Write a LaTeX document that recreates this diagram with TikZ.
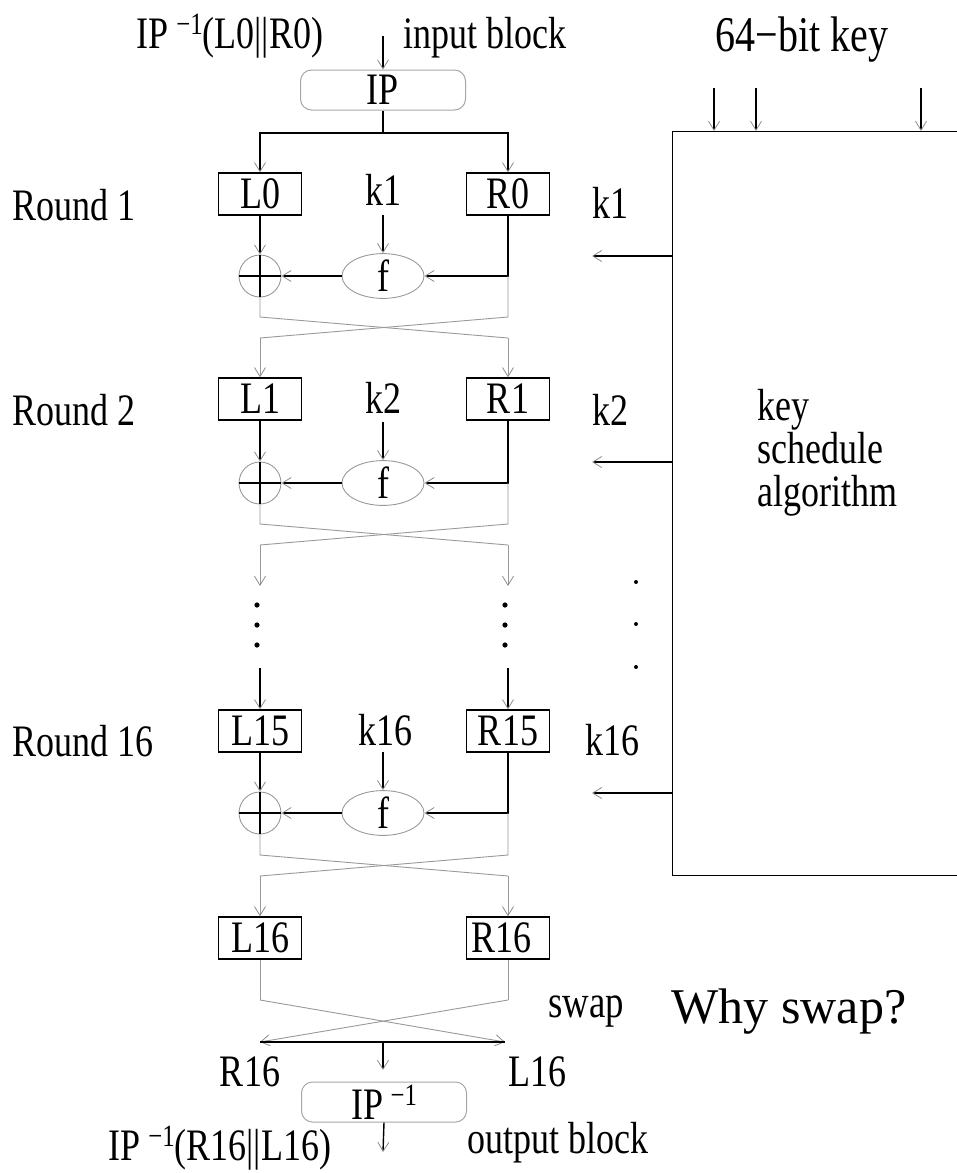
\documentclass[tikz,border=0pt]{standalone}
\usepackage{fontspec}
\setmainfont{Liberation Serif}[FakeStretch=0.8]
\newfontfamily\whyfont{Liberation Serif}
\usetikzlibrary{arrows.meta,shapes.geometric}
\newcommand\invsup{\,\raisebox{0.7ex}{\fontsize{31}{31}\selectfont −1}}
\tikzset{
  txt/.style={inner sep=0pt, font=\fontsize{45}{43}\selectfont},
  regbox/.style={draw, line width=1.4pt, minimum width=83pt, minimum height=42pt, inner sep=0pt, font=\fontsize{45}{43}\selectfont},
  ipbox/.style={draw=gray!70, line width=1pt, rounded corners=11pt, minimum width=165pt, minimum height=40pt, inner sep=0pt, font=\fontsize{45}{43}\selectfont},
  fbox/.style={ellipse, draw=gray!80, line width=0.9pt, minimum width=82pt, minimum height=42pt, inner sep=0pt, font=\fontsize{45}{43}\selectfont},
  xorc/.style={circle, draw=gray!80, line width=0.9pt, minimum size=42pt, inner sep=0pt},
  blk/.style={line width=1.4pt, black},
  gry/.style={line width=0.9pt, gray!80},
  tip/.style={-{Straight Barb[length=9pt,width=11pt,line width=0.8pt,color=gray!90]}},
}
\begin{document}
\begin{tikzpicture}[x=1pt,y=-1pt]
\useasboundingbox (0,0) rectangle (957,1173);
\clip (0,0) rectangle (957,1173);

% ---------- top ----------
\node[txt] (ipl0) at (230,36) {IP\invsup(L0||R0)};
\node[txt] (inblk) at (485,38) {input block};
\coordinate (inpt) at (383,36);
\node[ipbox] (IP) at (383,90) {IP};
\draw[blk,tip] (inpt) -- (IP.north);
\coordinate (split) at (383,133);
\coordinate (splitL) at (260,133);
\coordinate (splitR) at (508,133);

% ---------- round 1 ----------
\node[txt,anchor=west] (rnd1) at (12,205) {Round 1};
\node[regbox] (L0) at (260,194) {L0};
\node[regbox] (R0) at (508,194) {R0};
\node[txt] (k1) at (383,190) {k1};
\node[fbox] (f1) at (383,276) {f};
\node[xorc] (x1) at (260,276) {};
\draw[blk] (x1.north) -- (x1.south) (x1.west) -- (x1.east);
\draw[blk] (IP.south) -- (split);
\draw[blk] (splitL) -- (splitR);
\draw[blk,tip] (split) -| (L0.north);
\draw[blk,tip] (split) -| (R0.north);
\draw[blk,tip] (f1.north |- {(0,215)}) -- (f1.north);
\draw[blk,tip] (L0.south) -- (x1.north);
\coordinate (c1) at (508,276);
\draw[blk,tip] (R0.south) -- (c1) -- (f1.east);
\draw[blk,tip] (f1.west) -- (x1.east);
\coordinate (a1) at (260,317); \coordinate (b1) at (508,317);
\coordinate (a1b) at (260,338); \coordinate (b1b) at (508,338);

% ---------- round 2 ----------
\node[txt,anchor=west] (rnd2) at (12,410) {Round 2};
\node[regbox] (L1) at (260,399) {L1};
\node[regbox] (R1) at (508,399) {R1};
\draw[gry] (x1.south) -- (a1) -- (b1b);
\draw[gry] (c1) -- (b1) -- (a1b);
\draw[gry,tip] (a1b) -- (L1.north);
\draw[gry,tip] (b1b) -- (R1.north);
\node[txt] (k2) at (383,398) {k2};
\node[fbox] (f2) at (383,483) {f};
\node[xorc] (x2) at (260,483) {};
\draw[blk] (x2.north) -- (x2.south) (x2.west) -- (x2.east);
\draw[blk,tip] (f2.north |- {(0,422)}) -- (f2.north);
\draw[blk,tip] (L1.south) -- (x2.north);
\coordinate (c2) at (508,483);
\draw[blk,tip] (R1.south) -- (c2) -- (f2.east);
\draw[blk,tip] (f2.west) -- (x2.east);
\coordinate (a2) at (260,524); \coordinate (b2) at (508,524);
\coordinate (a2b) at (260,545); \coordinate (b2b) at (508,545);
\coordinate (a2e) at (260,586); \coordinate (b2e) at (508,586);
\draw[gry] (x2.south) -- (a2) -- (b2b);
\draw[gry] (c2) -- (b2) -- (a2b);
\draw[gry,tip] (a2b) -- (a2e);
\draw[gry,tip] (b2b) -- (b2e);

% dots
\foreach \yy in {605,625,645} {
  \fill (257,\yy) circle (2.6pt);
  \fill (505,\yy) circle (2.6pt);
}
\foreach \yy in {582,624,667} {
  \fill (636,\yy) circle (2pt);
}

% ---------- round 16 ----------
\node[txt,anchor=west] (rnd16) at (12,741) {Round 16};
\node[regbox] (L15) at (260,731) {L15};
\node[regbox] (R15) at (508,731) {R15};
\coordinate (d1) at (260,668); \coordinate (d2) at (508,668);
\draw[blk,tip] (d1) -- (L15.north);
\draw[blk,tip] (d2) -- (R15.north);
\node[txt] (k16) at (385,730) {k16};
\node[fbox] (f16) at (383,813) {f};
\node[xorc] (x16) at (260,813) {};
\draw[blk] (x16.north) -- (x16.south) (x16.west) -- (x16.east);
\draw[blk,tip] (f16.north |- {(0,752)}) -- (f16.north);
\draw[blk,tip] (L15.south) -- (x16.north);
\coordinate (c16) at (508,813);
\draw[blk,tip] (R15.south) -- (c16) -- (f16.east);
\draw[blk,tip] (f16.west) -- (x16.east);
\coordinate (a16) at (260,855); \coordinate (b16) at (508,855);
\coordinate (a16b) at (260,876); \coordinate (b16b) at (508,876);

% ---------- final ----------
\node[regbox] (L16) at (260,938) {L16};
\node[regbox] (R16) at (508,938) {\makebox[74pt][l]{R16}};
\draw[gry] (x16.south) -- (a16) -- (b16b);
\draw[gry] (c16) -- (b16) -- (a16b);
\draw[gry,tip] (a16b) -- (L16.north);
\draw[gry,tip] (b16b) -- (R16.north);

\coordinate (sa) at (260,1000); \coordinate (sb) at (508,1000);
\coordinate (ea) at (260,1042); \coordinate (eb) at (505,1042);
\coordinate (em) at (383,1042); \coordinate (emd) at (383,1070);
\draw[gry] (L16.south) -- (sa);
\draw[gry,tip] (sa) -- (eb);
\draw[gry] (R16.south) -- (sb);
\draw[gry,tip] (sb) -- (ea);
\draw[blk] (ea) -- (eb);
\draw[blk,tip] (em) -- (emd);
\node[txt] (swp) at (586,1012) {\fontsize{46}{46}\selectfont swap};
\node[txt] (why) at (789,1012) {\whyfont\fontsize{50}{52}\selectfont Why swap?};
\node[txt] (r16l) at (250,1072) {R16};
\node[txt] (l16l) at (537,1072) {L16};
\node[ipbox] (IPi) at (384,1102) {\raisebox{-5pt}{IP\invsup}};
\coordinate (outpt) at (383,1152);
\draw[blk,tip] (IPi.south) -- (outpt);
\node[txt] (outblk) at (558,1143) {output block};
\node[txt] (ipr16) at (220,1148) {IP\invsup(R16||L16)};

% ---------- key schedule ----------
\node[draw, line width=1.4pt, minimum width=330pt, minimum height=744pt, anchor=north west, inner sep=0pt] (ks) at (672,131) {};
\node[txt] (key64) at (802,40) {\fontsize{50}{50}\selectfont 64−bit key};
\foreach \xx/\nm in {714/ka,756/kb,921/kc} {
  \coordinate (\nm) at (\xx,88);
  \draw[blk,tip] (\nm) -- (\xx,131);
}
\node[txt,anchor=west,align=left] (ksa) at (757,453) {key\\schedule\\algorithm};
\coordinate (ko1) at (592,256);
\coordinate (ko2) at (592,462);
\coordinate (ko16) at (592,793);
\draw[blk,tip] (ks.west |- ko1) -- (ko1);
\draw[blk,tip] (ks.west |- ko2) -- (ko2);
\draw[blk,tip] (ks.west |- ko16) -- (ko16);
\node[txt] (kk1) at (610,203) {k1};
\node[txt] (kk2) at (610,410) {k2};
\node[txt] (kk16) at (612,740) {k16};
\end{tikzpicture}
\end{document}
